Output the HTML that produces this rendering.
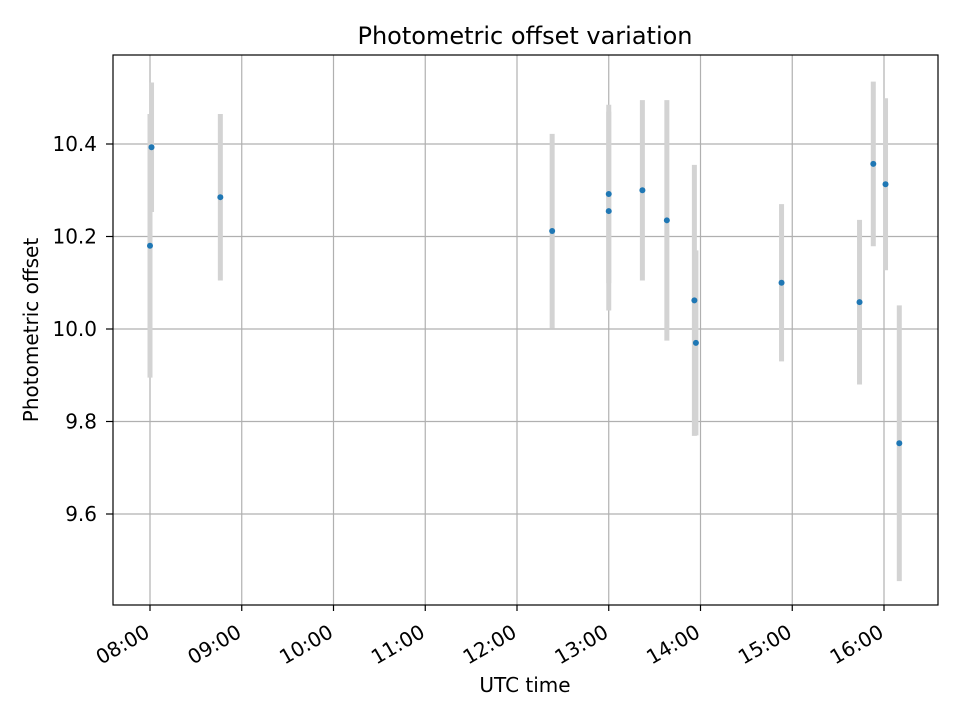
<!DOCTYPE html>
<html><head><meta charset="utf-8"><style>
body{margin:0;background:#fff;}
svg text{font-family:"DejaVu Sans","Liberation Sans",sans-serif;fill:#000;}
</style></head><body>
<svg id="chart" width="960" height="720" xmlns="http://www.w3.org/2000/svg">
<rect width="960" height="720" fill="#fff"/>
<g id="grid"></g>
<g id="bars"></g>
<g id="pts"></g>
<rect x="113" y="55" width="825" height="550" fill="none" stroke="#000" stroke-width="1.2"/>
<g id="xt"></g><g id="yt"></g>
<text x="525" y="44" text-anchor="middle" font-size="24">Photometric offset variation</text>
<text x="525" y="692" text-anchor="middle" font-size="20">UTC time</text>
<text transform="translate(38,330) rotate(-90)" text-anchor="middle" font-size="20">Photometric offset</text>
</svg>
<script>
const times=["08:00","08:01","08:46","12:23","13:00","13:00","13:22","13:38","13:56","13:57","14:53","15:44","15:53","16:01","16:10"];
const values=[10.18,10.393,10.285,10.212,10.292,10.255,10.30,10.235,10.062,9.97,10.10,10.058,10.357,10.313,9.753];
const errors=[0.285,0.14,0.18,0.21,0.193,0.215,0.195,0.26,0.293,0.2,0.17,0.178,0.178,0.186,0.298];
const xTicks=["08:00","09:00","10:00","11:00","12:00","13:00","14:00","15:00","16:00"];
const yTicks=[9.6,9.8,10.0,10.2,10.4];
const NS="http://www.w3.org/2000/svg";
function mins(t){const p=t.split(":");return +p[0]*60+ +p[1];}
function X(t){return 150+(mins(t)-480)/60*91.75;}
function Y(v){return 329-(v-10)/0.2*92.5;}
function mk(tag,attrs,parent){const e=document.createElementNS(NS,tag);for(const k in attrs)e.setAttribute(k,attrs[k]);document.getElementById(parent).appendChild(e);return e;}
xTicks.forEach(t=>{const x=X(t);
 const g=mk("line",{x1:x,x2:x,y1:55,y2:605,stroke:"#b0b0b0","stroke-width":1.2},"grid");
 
 
 mk("line",{x1:x,x2:x,y1:605,y2:611,stroke:"#000","stroke-width":1.2},"xt");
 const l=mk("text",{transform:`translate(${x+1},636) rotate(-30)`,"text-anchor":"end","font-size":20},"xt");
 l.textContent=t;
 
 
});
yTicks.forEach(v=>{const y=Y(v);
 const g=mk("line",{x1:113,x2:938,y1:y,y2:y,stroke:"#b0b0b0","stroke-width":1.2},"grid");
 
 
 mk("line",{x1:106,x2:113,y1:y,y2:y,stroke:"#000","stroke-width":1.2},"yt");
 const l=mk("text",{x:97,y:y+7,"text-anchor":"end","font-size":20},"yt");
 l.textContent=v.toFixed(1);
 
 
});
times.forEach((t,i)=>{const x=X(t);
 const b=mk("line",{x1:x,x2:x,y1:Y(values[i]+errors[i]),y2:Y(values[i]-errors[i]),stroke:"#d3d3d3","stroke-width":5},"bars");
 
 
});
times.forEach((t,i)=>{
 const c=mk("circle",{cx:X(t),cy:Y(values[i]),r:3,fill:"#1f77b4"},"pts");
 
 
});
</script>
</body></html>
